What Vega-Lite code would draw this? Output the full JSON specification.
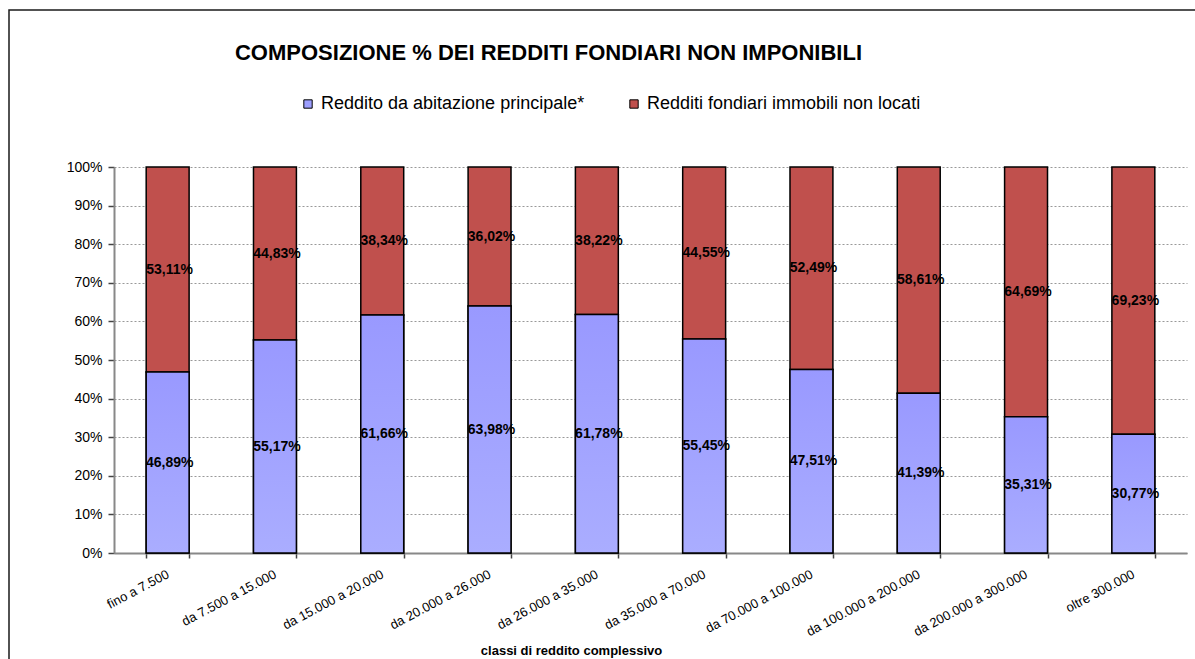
{
  "$schema": "https://vega.github.io/schema/vega-lite/v6.json",
  "width": 1195,
  "height": 660,
  "autosize": {"type": "none"},
  "padding": {"left": 9, "top": 10, "right": 0, "bottom": 0},
  "background": "white",
  "config": {
    "font": "Liberation Sans",
    "locale": {"number": {"decimal": ",", "thousands": ".", "grouping": [3], "currency": ["€", ""]}},
    "view": {"stroke": "#1a1a1a", "strokeWidth": 1.5}
  },
  "title": {
    "text": "COMPOSIZIONE %  DEI REDDITI FONDIARI NON IMPONIBILI",
    "font": "Liberation Sans",
    "fontSize": 22,
    "fontWeight": "bold",
    "color": "black",
    "frame": "group",
    "anchor": "middle",
    "offset": -55,
    "dx": -58
  },
  "data": {
    "values": [
      {"classe": "fino a 7.500", "serie": "Reddito da abitazione principale*", "ordine": 1, "v": 0.4689},
      {"classe": "fino a 7.500", "serie": "Redditi fondiari immobili non locati", "ordine": 2, "v": 0.5311},
      {"classe": "da 7.500 a 15.000", "serie": "Reddito da abitazione principale*", "ordine": 1, "v": 0.5517},
      {"classe": "da 7.500 a 15.000", "serie": "Redditi fondiari immobili non locati", "ordine": 2, "v": 0.4483},
      {"classe": "da 15.000 a 20.000", "serie": "Reddito da abitazione principale*", "ordine": 1, "v": 0.6166},
      {"classe": "da 15.000 a 20.000", "serie": "Redditi fondiari immobili non locati", "ordine": 2, "v": 0.3834},
      {"classe": "da 20.000 a 26.000", "serie": "Reddito da abitazione principale*", "ordine": 1, "v": 0.6398},
      {"classe": "da 20.000 a 26.000", "serie": "Redditi fondiari immobili non locati", "ordine": 2, "v": 0.3602},
      {"classe": "da 26.000 a 35.000", "serie": "Reddito da abitazione principale*", "ordine": 1, "v": 0.6178},
      {"classe": "da 26.000 a 35.000", "serie": "Redditi fondiari immobili non locati", "ordine": 2, "v": 0.3822},
      {"classe": "da 35.000 a 70.000", "serie": "Reddito da abitazione principale*", "ordine": 1, "v": 0.5545},
      {"classe": "da 35.000 a 70.000", "serie": "Redditi fondiari immobili non locati", "ordine": 2, "v": 0.4455},
      {"classe": "da 70.000 a 100.000", "serie": "Reddito da abitazione principale*", "ordine": 1, "v": 0.4751},
      {"classe": "da 70.000 a 100.000", "serie": "Redditi fondiari immobili non locati", "ordine": 2, "v": 0.5249},
      {"classe": "da 100.000 a 200.000", "serie": "Reddito da abitazione principale*", "ordine": 1, "v": 0.4139},
      {"classe": "da 100.000 a 200.000", "serie": "Redditi fondiari immobili non locati", "ordine": 2, "v": 0.5861},
      {"classe": "da 200.000 a 300.000", "serie": "Reddito da abitazione principale*", "ordine": 1, "v": 0.3531},
      {"classe": "da 200.000 a 300.000", "serie": "Redditi fondiari immobili non locati", "ordine": 2, "v": 0.6469},
      {"classe": "oltre 300.000", "serie": "Reddito da abitazione principale*", "ordine": 1, "v": 0.3077},
      {"classe": "oltre 300.000", "serie": "Redditi fondiari immobili non locati", "ordine": 2, "v": 0.6923}
    ]
  },
  "encoding": {
    "x": {
      "field": "classe",
      "type": "nominal",
      "sort": null,
      "scale": {"range": [105, 1178], "paddingInner": 0.6, "paddingOuter": 0.3},
      "axis": {
        "orient": "bottom",
        "offset": -117,
        "title": "classi  di  reddito  complessivo",
        "titleFont": "Liberation Sans",
        "titleFontSize": 13,
        "titleFontWeight": "bold",
        "titleColor": "black",
        "titleX": 562,
        "titleY": 97,
        "titleAlign": "center",
        "titleBaseline": "middle",
        "labelAngle": -28,
        "labelAlign": "right",
        "labelBaseline": "middle",
        "labelFont": "Liberation Sans",
        "labelFontSize": 13,
        "labelColor": "black",
        "labelPadding": 15,
        "labelLimit": 300,
        "tickBand": "extent",
        "tickSize": 5,
        "tickWidth": 1.5,
        "tickColor": "#444444",
        "domainColor": "#888888",
        "domainWidth": 2,
        "grid": false
      }
    }
  },
  "layer": [
    {
      "mark": {"type": "bar", "stroke": "black", "strokeWidth": 1.5},
      "encoding": {
        "y": {
          "field": "v",
          "type": "quantitative",
          "stack": "zero",
          "scale": {"domain": [0, 1], "range": [543, 157], "nice": false, "zero": true},
          "axis": {
            "orient": "left",
            "offset": -105,
            "format": ".0%",
            "values": [0, 0.1, 0.2, 0.3, 0.4, 0.5, 0.6, 0.7, 0.8, 0.9, 1],
            "title": null,
            "grid": true,
            "gridColor": "#999999",
            "gridDash": [2, 2],
            "gridWidth": 1,
            "domainColor": "#888888",
            "domainWidth": 2,
            "tickColor": "#444444",
            "tickSize": 6,
            "tickWidth": 1.5,
            "labelFont": "Liberation Sans",
            "labelFontSize": 14,
            "labelColor": "black",
            "labelPadding": 6
          }
        },
        "color": {
          "field": "serie",
          "type": "nominal",
          "sort": ["Reddito da abitazione principale*", "Redditi fondiari immobili non locati"],
          "scale": {"domain": ["Reddito da abitazione principale*", "Redditi fondiari immobili non locati"], "range": ["#9d9fff", "#c0504d"]},
          "legend": {
            "orient": "none",
            "legendX": 290,
            "legendY": 85,
            "direction": "horizontal",
            "title": null,
            "symbolType": "square",
            "symbolSize": 70,
            "symbolStrokeColor": "black",
            "symbolStrokeWidth": 1,
            "labelFont": "Liberation Sans",
            "labelFontSize": 18,
            "labelColor": "black",
            "labelLimit": 400,
            "labelOffset": 4,
            "columnPadding": 40
          }
        },
        "order": {"field": "ordine", "type": "quantitative"}
      }
    },
    {
      "transform": [{"filter": "datum.ordine == 1"}],
      "mark": {
        "type": "bar",
        "stroke": "black",
        "strokeWidth": 1.5,
        "fill": {
          "gradient": "linear",
          "x1": 0, "y1": 0, "x2": 0, "y2": 1,
          "stops": [
            {"offset": 0, "color": "#9999ff"},
            {"offset": 1, "color": "#aaadff"}
          ]
        }
      },
      "encoding": {
        "y": {"field": "v", "type": "quantitative", "stack": "zero"}
      }
    },
    {
      "mark": {"type": "text", "font": "Liberation Sans", "fontSize": 14, "fontWeight": "bold", "color": "black", "dx": 2},
      "encoding": {
        "y": {"field": "v", "type": "quantitative", "stack": "zero", "bandPosition": 0.5},
        "detail": {"field": "serie"},
        "order": {"field": "ordine", "type": "quantitative"},
        "text": {"field": "v", "type": "quantitative", "format": ".2%"}
      }
    }
  ]
}
